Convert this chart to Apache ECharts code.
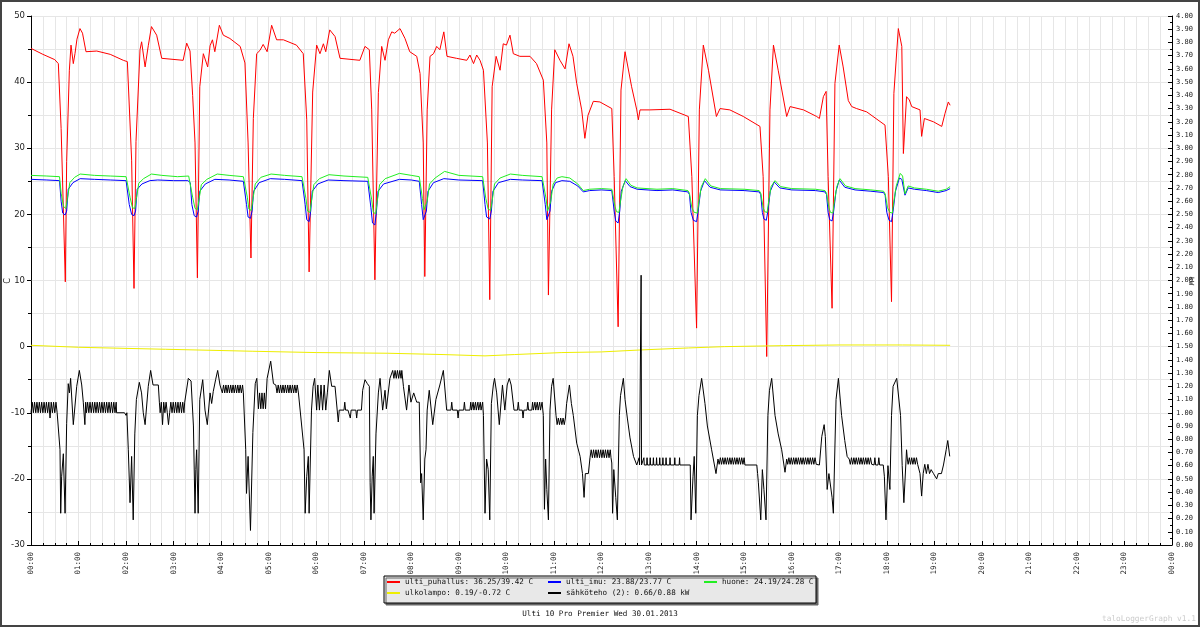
<!DOCTYPE html>
<html lang="fi">
<head>
    <meta charset="UTF-8" />
    <title>Ulti 10 Pro Premier</title>
    <script src="https://cdn.jsdelivr.net/npm/echarts@6.0.0/dist/echarts.min.js"></script>
    <style>
        html, body { margin: 0; padding: 0; background: #fff; }
        #main { width: 1200px; height: 627px; }
    </style>
</head>
<body>
<div id="main"></div>
<script>
// aika minuutteina keskiyöstä, arvot kuvasta luettuna
var hourTicks = ['00:00', '01:00', '02:00', '03:00', '04:00', '05:00', '06:00', '07:00', '08:00', '09:00', '10:00', '11:00',
    '12:00', '13:00', '14:00', '15:00', '16:00', '17:00', '18:00', '19:00', '20:00', '21:00', '22:00', '23:00', '00:00'];

var seriesNames = [
    'ulti_puhallus: 36.25/39.42 C',
    'ulti_imu: 23.88/23.77 C',
    'huone: 24.19/24.28 C',
    'ulkolampo: 0.19/-0.72 C',
    'sähköteho (2): 0.66/0.88 kW'
];

// ulti_puhallus (C)
var puhallus = [
    [0,45.1],[15,44.2],[30,43.4],[34.5,42.8],[38,33],[41,20],[43.3,9.8],[45,28],[48.4,41.8],[50.5,45.6],[53.4,42.8],[55.5,44.3],[58,46.5],[61.8,48.1],[65,47.4],[69.4,44.6],[83,44.7],[100,44.2],[116.5,43.3],[121.6,43.1],
    [127,28.2],[130,8.8],[132.5,31],[137.6,44.9],[139.6,46.1],[144,42.3],[148,45.5],[152,48.4],[158.6,47.1],[165,43.6],[192,43.3],[196.5,45.9],[200.7,44.7],
    [204,38],[207,30.8],[210,10.4],[213,39.3],[217.5,44.3],[223,42.3],[226,45.5],[229,46.4],[232,44.6],[237.7,48.6],[242.7,47.1],[251,46.6],[264,45.4],[270,42.9],
    [274,30.8],[277.6,13.4],[280.6,34.5],[284.8,44.3],[289,44.8],[293,45.7],[298,44.6],[303.7,48.6],[310,46.4],[318.5,46.4],[335,45.6],[343.6,44.3],
    [348,34.3],[351,11.3],[355.5,38.5],[360.5,45.6],[364.7,44.3],[369,45.8],[372,44.6],[377,47.9],[383.7,46.9],[390,43.6],[415,43.3],[421.5,45.4],[427,44.9],
    [430,35.8],[434,10.1],[438.4,38.4],[442.6,45.4],[446.8,43.3],[451,46.4],[455.3,47.6],[459,47.4],[465.7,48.1],[472,46.6],[478,44.6],[486.8,43.9],[491,41.3],
    [495,30.8],[497,10.6],[500,35.8],[503.6,43.9],[508,44.3],[512,45.4],[516,44.9],[521,47.6],[525,43.9],[537,43.6],[550,43.3],[554,44.1],[558.5,42.8],[562.5,44.1],[566.7,43.3],[571,41.8],
    [576,30.8],[579,7.1],[582,39.3],[587,43.9],[592,41.8],[596,45.8],[600,45.6],[604.5,47.1],[608.7,44.3],[617,43.9],[629.8,43.9],[638,42.8],[646.6,40.3],
    [651,30.8],[653,7.8],[657,35.8],[661,44.9],[667.6,43.3],[674,42],[679,45.8],[684,43.9],[688.7,39.8],[695,35.8],[699,31.5],[703,35],[709.7,37.1],[718,37],[733,36],
    [736,25.7],[741,3],[744.6,38.8],[749.7,44.6],[758,39.3],[764.5,35.8],[766.5,34.3],[768.6,35.8],[781,35.8],[806.5,35.9],[829.6,34.8],
    [834,25.7],[840,2.8],[843.5,35.8],[848.5,45.6],[855,41.8],[865,34.8],[869.6,36],[882,35.8],[899,34.8],[920,33.3],
    [924,25.7],[928.5,-1.5],[932.6,35.8],[937,45.6],[943,41.8],[953.7,34.8],[958,36.3],[975,35.8],[991.6,34.8],[995,34.5],[1000,37.8],[1003.5,38.6],
    [1006,25.7],[1011,5.8],[1014.6,39.8],[1020,45.6],[1025,42.3],[1031.5,37.2],[1035.8,36.3],[1042,36],[1054.7,35.5],[1077.8,33.5],
    [1082,25.7],[1086,6.8],[1089,38.3],[1094.6,48.1],[1099,45.4],[1101,29.2],[1105,37.8],[1108.5,37.3],[1111.5,36.3],[1122,35.8],[1124,31.8],[1127.5,34.5],[1139,34],[1149.4,33.3],[1153.6,35.3],[1157.7,37],[1160,36.5]
];

// ulti_imu (C)
var imu = [
    [0,25.3],[20,25.2],[36,25.1],[38,22],[40,20.2],[43,19.9],[45,20.5],[47,23.8],[53,24.8],[62,25.4],[80,25.3],[100,25.2],[120,25.1],
    [122,24.8],[124,21.5],[127,20],[130,19.8],[132,20.5],[134,23.8],[140,24.6],[150,25.1],[160,25.2],[180,25.1],[198,25.1],
    [201,24.8],[203,21.5],[206,19.8],[209,19.6],[211,20.5],[213,23.5],[220,24.6],[232,25.3],[250,25.2],[268,25],
    [270,24.8],[272,21.5],[274,19.6],[277,19.4],[279,20.5],[281,23.5],[288,24.8],[302,25.4],[320,25.3],[342,25.1],
    [344,24.8],[346,21.5],[348,19.2],[351,18.9],[353,20.5],[355,23.5],[362,24.6],[375,25.2],[395,25.1],[425,25],
    [427,24.7],[429,21],[431,18.7],[434,18.4],[436,20.5],[438,23.5],[445,24.6],[465,25.3],[480,25.2],[490,25],
    [491,24.8],[493,21.5],[495,19.2],[497,18.9],[499,20.5],[501,23.5],[508,24.8],[521,25.4],[540,25.2],[570,25.1],
    [571,24.8],[573,21.5],[575,19.6],[579,19.3],[581,20.5],[583,23.5],[590,24.8],[605,25.3],[620,25.2],[645,25.1],
    [647,24.8],[649,21.5],[651,19.2],[653,18.9],[655,20.5],[657,23.5],[662,24.8],[670,25.1],[680,25],[690,24.3],[697,23.4],[705,23.6],[720,23.7],[733,23.6],
    [734,23.3],[736,20.5],[738,19],[741,18.7],[743,20.5],[745,23.5],[750,25.1],[756,24.2],[765,23.8],[790,23.6],[810,23.7],[829,23.4],
    [831,23],[833,20.3],[836,19.1],[840,18.9],[842,20.5],[845,23.5],[850,25.1],[857,24.1],[870,23.7],[900,23.6],[919,23.4],
    [921,23],[923,20.3],[925,19.3],[928,19.1],[930,20.5],[933,23.5],[938,24.9],[945,24],[960,23.7],[990,23.6],[1002,23.4],
    [1004,23],[1006,20.3],[1008,19.2],[1011,19],[1013,20.5],[1016,23.5],[1020,25.2],[1027,24.1],[1040,23.7],[1060,23.5],[1076,23.3],
    [1078,22.9],[1080,20.3],[1083,19.1],[1086,18.9],[1088,20.5],[1091,23.5],[1096,25.5],[1099,25.3],[1103,22.9],[1107,24],[1115,23.8],[1130,23.6],[1145,23.3],[1155,23.6],[1160,23.9]
];

// huone (C)
var huone = [
    [0,25.9],[20,25.8],[36,25.7],[38,23.2],[41,21.2],[44,20.9],[46,22.4],[49,24.8],[55,25.6],[62,26.1],[80,25.9],[100,25.8],[120,25.7],
    [122,25.4],[125,22.6],[128,21],[131,20.9],[133,22.4],[136,24.7],[142,25.4],[152,26.1],[165,25.9],[185,25.7],[199,25.8],
    [201,25.5],[204,22.6],[207,20.9],[210,20.7],[212,22.2],[215,24.5],[222,25.3],[235,26.1],[250,25.9],[268,25.7],
    [270,25.4],[273,22.6],[275,20.8],[278,20.6],[280,22.2],[283,24.6],[290,25.6],[303,26.1],[320,25.9],[342,25.7],
    [344,25.4],[347,22.4],[349,20.5],[352,20.3],[354,22],[357,24.5],[364,25.4],[376,26],[395,25.8],[425,25.6],
    [427,25.3],[430,22.2],[432,20.3],[435,20.1],[437,22],[440,24.5],[447,25.4],[465,26.2],[480,25.9],[490,25.7],
    [491,25.4],[494,22.4],[496,20.7],[498,20.5],[500,22],[503,24.6],[510,25.5],[522,26.5],[540,25.9],[570,25.7],
    [571,25.4],[574,22.4],[577,20.8],[580,20.6],[582,22],[585,24.6],[592,25.5],[605,26.1],[620,25.9],[645,25.7],
    [647,25.4],[650,22.4],[652,20.5],[654,20.3],[656,22],[659,24.6],[664,25.5],[670,25.7],[680,25.5],[690,24.6],[697,23.6],[705,23.8],[720,23.9],[733,23.8],
    [734,23.5],[737,21.2],[739,20.4],[742,20.3],[744,22],[747,24.2],[751,25.4],[757,24.4],[765,24],[790,23.8],[810,23.9],[829,23.6],
    [831,23.2],[834,21],[837,20.3],[841,20.2],[843,22],[846,24.2],[851,25.4],[858,24.3],[870,23.9],[900,23.8],[919,23.6],
    [921,23.2],[924,21],[926,20.4],[929,20.3],[931,22],[934,24.2],[939,25.1],[946,24.2],[960,23.9],[990,23.8],[1002,23.6],
    [1004,23.2],[1007,21],[1009,20.3],[1012,20.2],[1014,22],[1017,24.2],[1021,25.4],[1028,24.3],[1040,23.9],[1060,23.7],[1076,23.5],
    [1078,23.1],[1081,21],[1084,20.3],[1087,20.2],[1089,22],[1092,24.3],[1097,26.2],[1100,25.8],[1103,23.1],[1107,24.3],[1115,24],[1130,23.8],[1145,23.5],[1155,23.8],[1160,24.2]
];

// ulkolampo (C)
var ulko = [
    [0,0.2],[60,-0.1],[170,-0.4],[280,-0.7],[360,-0.9],[450,-1],[520,-1.2],[573,-1.4],[610,-1.2],[670,-0.9],[720,-0.8],
    [770,-0.5],[830,-0.2],[875,0],[950,0.15],[1020,0.25],[1100,0.25],[1160,0.2]
];

// sähköteho (kW, oikea akseli)
var teho = [
    [0,1.0],[1.5,1.08],[3,1.0],[4.5,1.08],[6,1.0],[7.5,1.08],[9,1.0],[10.5,1.08],[12,1.0],[13.5,1.08],[15,1.0],[16.5,1.08],[18,1.0],[19.5,1.08],[21,1.0],[22.5,1.08],[24,0.96],[25.5,1.08],[27,1.0],[28.5,1.08],[30,1.0],[31.5,1.08],[33,1.0],
    [34.5,1.0],[36.6,0.72],[37.5,0.24],[38.7,0.52],[40.8,0.69],[43,0.24],[45,0.92],[47,1.22],[48.5,1.15],[50,1.26],[53.4,0.91],[57.7,1.2],[61,1.32],[64,1.21],[66,1.08],[68,0.91],[69,1.08],
    [70,1.0],[71.5,1.08],[73,1.0],[74.5,1.08],[76,1.0],[77.5,1.08],[79,1.0],[80.5,1.08],[82,1.0],[83.5,1.08],[85,1.0],[86.5,1.08],[88,1.0],[89.5,1.08],[91,1.0],[92.5,1.08],[94,1.0],[95.5,1.08],[97,1.0],[98.5,1.08],[100,1.0],[101.5,1.08],[103,1.0],[104.5,1.08],[106,1.0],[107.5,1.08],[108,1.0],
    [118,1.0],[120,0.98],[121,1.0],[122.8,0.72],[125,0.32],[127,0.67],[129,0.19],[131,0.84],[133,1.1],[136.7,1.23],[139.5,1.15],[141.7,1.0],[144,0.91],[148,1.2],[151,1.32],[154,1.21],[160.7,1.21],[162,1.08],
    [163,1.0],[164.5,1.08],[166,0.91],[167.5,1.08],[169,1.0],[170.5,1.08],[172,1.0],[173.5,0.91],[175,1.0],[176.5,1.08],[178,1.0],[179.5,1.08],[181,1.0],[182.5,1.08],[184,1.0],[185.5,1.08],[187,1.0],[188.5,1.08],[190,1.0],[191.5,1.08],[193,1.0],[194,1.08],
    [198.5,1.26],[202,1.24],[205,0.9],[207,0.24],[208,0.57],[209,0.72],[211,0.24],[213,1.1],[216.7,1.25],[219.6,1.02],[222.5,0.91],[226,1.15],[228,1.07],[230,1.16],[233,1.25],[235.6,1.32],[238.5,1.21],
    [240,1.21],[241.5,1.15],[243,1.21],[244.5,1.15],[246,1.21],[247.5,1.15],[249,1.21],[250.5,1.15],[252,1.21],[253.5,1.15],[255,1.21],[256.5,1.15],[258,1.21],[259.5,1.15],[261,1.21],[262.5,1.15],[264,1.21],[265.5,1.15],[267,1.21],[268,1.15],
    [269,1.15],[271,0.72],[272,0.39],[274,0.67],[277,0.11],[280,0.85],[283,1.22],[285,1.26],[287,1.03],
    [288.5,1.15],[290,1.03],[291.5,1.15],[293,1.03],[294.5,1.15],[296,1.03],
    [298,1.26],[302.5,1.39],[306,1.22],
    [309,1.21],[310.5,1.15],[312,1.21],[313.5,1.15],[315,1.21],[316.5,1.15],[318,1.21],[319.5,1.15],[321,1.21],[322.5,1.15],[324,1.21],[325.5,1.15],[327,1.21],[328.5,1.15],[330,1.21],[331.5,1.15],[333,1.21],[334.5,1.15],[336,1.21],[337.5,1.15],
    [340,1.15],[344.6,0.72],[346,0.24],[348,0.52],[350,0.67],[351,0.24],[354,1.02],[356,1.2],[358,1.26],[360.5,1.02],
    [362,1.21],[364,1.02],[366,1.21],[368,1.02],[370,1.21],[372,1.02],[374,1.15],[376.5,1.32],[379.5,1.2],[383.7,1.2],[387.8,0.93],[389,1.02],
    [395,1.02],[396,1.08],[397,1.02],[400,1.02],[403,0.96],[404,1.02],[410,1.02],[411,0.96],[412,1.02],[417,1.02],
    [418.6,1.17],[421.5,1.25],[424.5,1.22],[427,1.2],[428,0.47],[429,0.19],[430.6,0.52],[432,0.67],[433,0.24],[435.4,0.84],[438.4,1.15],[440.5,1.26],[443.8,1.02],[446.8,1.17],[448.5,1.03],[453,1.26],[456.5,1.32],
    [458,1.26],[459.5,1.32],[461,1.26],[462.5,1.32],[464,1.26],[465.5,1.32],[467,1.26],[468,1.32],
    [470,1.2],[474,1.02],[477,1.21],[479.5,1.08],[483,1.15],[486.8,1.08],[490,1.08],[491.8,0.47],[493,0.54],[495,0.19],[497,0.65],[498.5,0.72],[500,1.02],[502.6,1.17],[507,0.91],[511,1.1],[516,1.21],[520.4,1.32],[524.6,1.02],
    [530,1.02],[531,1.08],[532,1.02],[538,1.02],[539,0.96],[540,1.02],[546,1.02],[547,1.08],[548,1.02],[554,1.02],[555,1.08],[556,1.02],[558,1.08],[559,1.02],[561,1.08],[562,1.02],[564,1.08],[565,1.02],[567,1.08],[568,1.02],[570,1.08],[571,0.98],
    [573,0.24],[575,0.65],[577,0.57],[579,0.19],[581,1.07],[583.5,1.21],[585,1.26],[587.7,1.15],[591,0.91],[595,1.21],[598,1.02],[601,1.21],[603.6,1.26],[606,1.21],[609.6,1.02],
    [614,1.02],[615,1.08],[616,1.02],[620,1.02],[621,0.96],[622,1.02],[626,1.02],[627,1.08],[628,1.02],[632,1.02],[633,1.08],[634,1.02],[636,1.08],[637,1.02],[639,1.08],[640,1.02],[642,1.08],[643,1.02],[645,1.08],[646.6,0.98],
    [648,0.27],[649.5,0.65],[651,0.42],[653,0.19],[655,1.02],[657,1.2],[659,1.26],[662.6,0.98],
    [664,0.91],[665.5,0.96],[667,0.91],[668.5,0.96],[670,0.91],[671.5,0.96],[673,0.91],[674.5,0.96],
    [676,1.07],[679.5,1.21],[682,1.07],[684.4,0.98],[688.7,0.77],[693,0.67],[696,0.54],[698,0.36],[699.6,0.54],[703.4,0.54],[705.5,0.66],
    [707,0.72],[708.5,0.66],[710,0.72],[711.5,0.66],[713,0.72],[714.5,0.66],[716,0.72],[717.5,0.66],[719,0.72],[720.5,0.66],[722,0.72],[723.5,0.66],[725,0.72],[726.5,0.66],[728,0.72],[729.5,0.66],[731,0.72],[732,0.66],
    [733,0.62],[734,0.24],[735.5,0.57],[738,0.36],[740,0.19],[742.5,0.98],[744,1.13],[747.6,1.26],[749.7,1.1],[752.6,0.96],[756,0.81],[760.4,0.67],[764.5,0.605],
    [767,0.605],[767.5,0.66],[768,0.605],[769.5,0.605],[770,2.04],[770.5,0.605],[773,0.605],[773.5,0.66],[774,0.605],[777,0.605],[777.5,0.66],[778,0.605],[781,0.605],[781.5,0.66],[782,0.605],[785,0.605],[785.5,0.66],[786,0.605],[789,0.605],[789.5,0.66],[790,0.605],[793,0.605],[793.5,0.66],[794,0.605],[797,0.605],[797.5,0.66],[798,0.605],[801,0.605],[801.5,0.66],[802,0.605],[806,0.605],[806.5,0.66],[807,0.605],[812,0.605],[812.5,0.66],[813,0.605],[818,0.605],[818.5,0.66],[819,0.605],[832,0.605],
    [833,0.19],[835.5,0.52],[837,0.67],[839,0.24],[841,0.98],[843,1.13],[846.4,1.26],[850.6,1.07],[853.6,0.9],[859,0.72],[864.5,0.54],[867,0.65],
    [868.5,0.61],[870,0.66],[871.5,0.61],[873,0.66],[874.5,0.61],[876,0.66],[877.5,0.61],[879,0.66],[880.5,0.61],[882,0.66],[883.5,0.61],[885,0.66],[886.5,0.61],[888,0.66],[889.5,0.61],[891,0.66],[892.5,0.61],[894,0.66],[895.5,0.61],[897,0.66],[898.5,0.61],[900,0.66],[901,0.605],[916,0.605],
    [917,0.54],[918,0.47],[921,0.19],[923,0.57],[925,0.42],[927.6,0.19],[930,0.98],[932,1.17],[934.8,1.26],[939,0.98],[943,0.84],[947.4,0.72],[951.6,0.55],[953.7,0.65],
    [955,0.61],[956.5,0.66],[958,0.61],[959.5,0.66],[961,0.61],[962.5,0.66],[964,0.61],[965.5,0.66],[967,0.61],[968.5,0.66],[970,0.61],[971.5,0.66],[973,0.61],[974.5,0.66],[976,0.61],[977.5,0.66],[979,0.61],[980.5,0.66],[982,0.61],[983.5,0.66],[985,0.61],[986.5,0.66],[988,0.61],[989.5,0.66],[991,0.61],[992,0.605],[995,0.605],
    [998,0.82],[1001,0.91],[1002.5,0.82],[1004.8,0.42],[1007,0.54],[1011,0.36],[1012.6,0.24],[1016,1.1],[1019,1.26],[1023,0.98],[1027,0.79],[1030,0.67],[1032.6,0.65],
    [1034,0.61],[1035.5,0.66],[1037,0.61],[1038.5,0.66],[1040,0.61],[1041.5,0.66],[1043,0.61],[1044.5,0.66],[1046,0.61],[1047.5,0.66],[1049,0.61],[1050.5,0.66],[1052,0.61],[1053.5,0.66],[1055,0.61],[1056.5,0.66],[1058,0.61],[1059.5,0.66],[1061,0.61],[1064,0.605],[1065,0.66],[1066,0.605],[1069,0.605],[1070,0.66],[1071,0.605],[1075.6,0.605],
    [1077,0.52],[1079,0.19],[1081.5,0.6],[1084,0.42],[1086,0.98],[1088,1.2],[1092.6,1.26],[1094.5,1.25],[1097.4,0.98],[1099.5,0.6],[1101.6,0.32],[1105,0.72],[1106,0.65],
    [1107,0.61],[1108.5,0.66],[1110,0.61],[1111.5,0.66],[1113,0.61],[1114.5,0.66],[1116,0.61],[1117.5,0.66],[1119,0.61],[1120,0.605],
    [1122,0.54],[1124,0.37],[1126,0.54],[1128,0.61],[1130,0.54],[1132,0.61],[1134,0.54],[1136,0.57],[1139,0.54],[1143,0.5],[1145,0.54],[1149,0.54],[1151.6,0.605],[1155,0.72],[1157,0.79],[1159.5,0.67]
];

var colors = ['#ff0000', '#0000ff', '#22ee22', '#eeee00', '#000000'];
var mono = 'DejaVu Sans Mono';

var myChart = echarts.init(document.getElementById('main'), null, { renderer: 'canvas' });

function legendItem(i, left, top) {
    return {
        data: [seriesNames[i]],
        left: left,
        top: top,
        padding: 0,
        itemWidth: 13,
        itemHeight: 2,
        icon: 'rect',
        selectedMode: false,
        z: 10,
        textStyle: { fontFamily: mono, fontSize: 7.6, color: '#111' }
    };
}

function lineSeries(i, data, yIdx) {
    return {
        name: seriesNames[i],
        type: 'line',
        yAxisIndex: yIdx,
        data: data,
        showSymbol: false,
        symbol: 'none',
        color: colors[i],
        lineStyle: { width: 1, color: colors[i] },
        emphasis: { disabled: true }
    };
}

option = {
    animation: false,
    backgroundColor: '#fff',
    title: {
        text: 'Ulti 10 Pro Premier Wed 30.01.2013',
        left: 'center',
        top: 610,
        padding: 0,
        textStyle: { fontFamily: mono, fontSize: 7.6, fontWeight: 'normal', color: '#111' }
    },
    legend: [
        legendItem(0, 387, 578),
        legendItem(1, 548, 578),
        legendItem(2, 704, 578),
        legendItem(3, 387, 589),
        legendItem(4, 548, 589)
    ],
    grid: { left: 31, right: 28, top: 16, bottom: 82, containLabel: false, outerBoundsMode: 'none' },
    xAxis: {
        type: 'value',
        min: 0,
        max: 1440,
        interval: 60,
        axisLine: { show: true, onZero: false, lineStyle: { color: '#000', width: 1 } },
        axisTick: { show: true, inside: true, length: 4, lineStyle: { color: '#000' } },
        minorTick: { show: true, splitNumber: 4, length: 2, lineStyle: { color: '#000' } },
        splitLine: { show: true, lineStyle: { color: '#e6e6e6', width: 1 } },
        minorSplitLine: { show: true, lineStyle: { color: '#e6e6e6', width: 1 } },
        axisLabel: {
            rotate: 90,
            margin: 7,
            fontFamily: mono,
            fontSize: 7.5,
            color: '#222',
            showMinLabel: true,
            showMaxLabel: true,
            formatter: function (v) { return hourTicks[Math.round(v / 60)]; }
        }
    },
    yAxis: [
        {
            type: 'value',
            position: 'left',
            min: -30,
            max: 50,
            interval: 10,
            axisLine: { show: true, onZero: false, lineStyle: { color: '#000', width: 1 } },
            axisTick: { show: true, length: 4, lineStyle: { color: '#000' } },
            minorTick: { show: true, splitNumber: 2, length: 3, lineStyle: { color: '#000' } },
            splitLine: { show: true, lineStyle: { color: '#e6e6e6', width: 1 } },
            minorSplitLine: { show: true, lineStyle: { color: '#e6e6e6', width: 1 } },
            axisLabel: { margin: 6, fontFamily: 'DejaVu Sans', fontSize: 8.5, color: '#222' }
        },
        {
            type: 'value',
            position: 'right',
            min: 0,
            max: 4,
            interval: 0.1,
            axisLine: { show: true, onZero: false, lineStyle: { color: '#000', width: 1 } },
            axisTick: { show: true, inside: true, length: 4, lineStyle: { color: '#000' } },
            minorTick: { show: true, splitNumber: 2, length: 2, lineStyle: { color: '#000' } },
            splitLine: { show: false },
            axisLabel: {
                margin: 4,
                fontFamily: mono,
                fontSize: 7,
                color: '#222',
                formatter: function (v) { return v.toFixed(2); }
            }
        }
    ],
    graphic: [
        {
            type: 'rect',
            z: 1,
            shape: { x: 1, y: 1, width: 1198, height: 625 },
            style: { fill: 'none', stroke: '#444', lineWidth: 2 }
        },
        {
            type: 'rect',
            z: 2,
            shape: { x: 384, y: 576, width: 432, height: 27 },
            style: { fill: '#e8e8e8', stroke: '#000', lineWidth: 1, shadowColor: '#666', shadowOffsetX: 2, shadowOffsetY: 2, shadowBlur: 0 }
        },
        {
            // vasemman akselin nimi
            type: 'text',
            z: 5,
            x: 8,
            y: 281,
            rotation: Math.PI / 2,
            style: { text: 'C', fill: '#222', font: '8px "DejaVu Sans"', align: 'center', verticalAlign: 'middle' }
        },
        {
            // oikean akselin nimi
            type: 'text',
            z: 5,
            x: 1191,
            y: 281,
            rotation: -Math.PI / 2,
            style: { text: 'kW', fill: '#222', font: '7px "DejaVu Sans Mono"', align: 'center', verticalAlign: 'middle' }
        },
        {
            type: 'text',
            z: 2,
            left: 1102,
            top: 615,
            style: { text: 'taloLoggerGraph v1.1', fill: '#cccccc', font: '7.8px "DejaVu Sans Mono"' }
        }
    ],
    series: [
        lineSeries(0, puhallus, 0),
        lineSeries(1, imu, 0),
        lineSeries(2, huone, 0),
        lineSeries(3, ulko, 0),
        lineSeries(4, teho, 1)
    ]
};

myChart.setOption(option);
</script>
</body>
</html>
